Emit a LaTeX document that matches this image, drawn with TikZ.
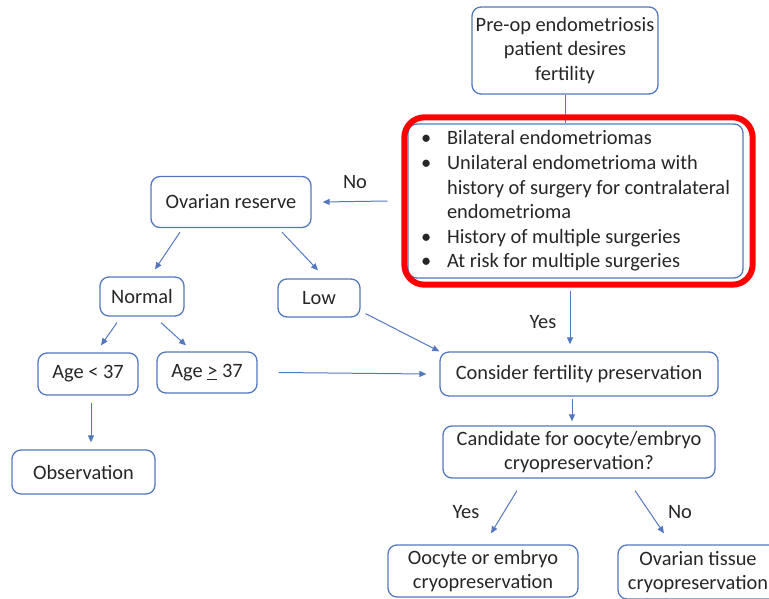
\documentclass[tikz,border=0pt]{standalone}
\usepackage{fontspec}
\setmainfont{Carlito}
\usetikzlibrary{arrows.meta}
\definecolor{boxblue}{RGB}{84,120,190}
\definecolor{inkgray}{RGB}{38,38,38}
\newcommand{\critem}[1]{\makebox[26pt][l]{\textbullet}#1}
\tikzstyle{process} = [rectangle, rounded corners=9pt, draw=boxblue, line width=1.3pt, text=inkgray, align=center, inner sep=2pt, font=\fontsize{20.4}{24.6}\selectfont]
\tikzstyle{highlight} = [draw=red, line width=6pt, rounded corners=20pt]
\tikzstyle{arrow} = [draw=boxblue, line width=1pt, -{Triangle[length=7pt,width=6pt]}]
\tikzstyle{link} = [draw=boxblue, line width=1pt]
\tikzstyle{answer} = [text=inkgray, font=\fontsize{20.4}{24.6}\selectfont]

\begin{document}
\begin{tikzpicture}[x=1pt, y=-1pt]
					\useasboundingbox (0,0) rectangle (769,599);
					\node[process, minimum width=186, minimum height=87] (start) at (565,50.5) {Pre-op endometriosis\\patient desires\\fertility};
					\node[process, minimum width=335, minimum height=154, align=left] (crit) at (575.5,201) {\critem{Bilateral endometriomas}\\\critem{Unilateral endometrioma with}\\\hspace*{26pt}history of surgery for contralateral\\\hspace*{26pt}endometrioma\\\critem{History of multiple surgeries}\\\critem{At risk for multiple surgeries}};
					\node[process, minimum width=160, minimum height=51] (ovres) at (231,202) {Ovarian reserve};
					\node[process, minimum width=84, minimum height=39] (normal) at (142,296.5) {Normal};
					\node[process, minimum width=82, minimum height=38] (low) at (319,298) {Low};
					\node[process, minimum width=100, minimum height=42] (ageyoung) at (88,374) {Age < 37};
					\node[process, minimum width=100, minimum height=41] (ageold) at (207,372.5) {Age \underline{>} 37};
					\node[process, minimum width=143, minimum height=44] (observation) at (83.5,472) {Observation};
					\node[process, minimum width=278, minimum height=44] (consider) at (579,374) {Consider fertility preservation};
					\node[process, minimum width=272, minimum height=52] (candidate) at (579,452) {Candidate for oocyte/embryo\\cryopreservation?};
					\node[process, minimum width=190, minimum height=52] (oocyte) at (483,571) {Oocyte or embryo\\cryopreservation};
					\node[process, minimum width=160, minimum height=54] (tissue) at (698,572) {Ovarian tissue\\cryopreservation};
					\node[answer] (no1) at (355,182) {No};
					\node[answer] (yes1) at (543,322) {Yes};
					\node[answer] (yes2) at (466,512) {Yes};
					\node[answer] (no2) at (680,512) {No};
					\draw[link] (start.south) -- (start.south |- crit.north);
					\draw[highlight] ([shift={(-3pt,6pt)}]crit.north west) rectangle ([shift={(9pt,-6pt)}]crit.south east);
					\draw[arrow] ([xshift=-20pt]crit.west) -- ([xshift=11pt]ovres.east);
					\draw[arrow] ([xshift=-5.5pt,yshift=-12pt]crit.south) -- ([xshift=-9pt,yshift=7pt]consider.north);
					\draw[arrow] ([xshift=-51pt,yshift=-4pt]ovres.south) -- ([xshift=13pt,yshift=7pt]normal.north);
					\draw[arrow] ([xshift=51pt,yshift=-4pt]ovres.south) -- ([xshift=-1pt,yshift=8pt]low.north);
					\draw[arrow] ([xshift=-25pt,yshift=-6pt]normal.south) -- ([xshift=13pt,yshift=7pt]ageyoung.north);
					\draw[arrow] ([xshift=19pt,yshift=-6pt]normal.south) -- ([xshift=-21pt,yshift=6pt]ageold.north);
					\draw[arrow] ([xshift=21pt]ageold.east) -- ([xshift=-13pt]consider.west);
					\draw[arrow] ([xshift=5pt,yshift=4pt]low.south east) -- (consider.north west);
					\draw[arrow] ([xshift=-7pt,yshift=-2pt]consider.south) -- ([xshift=-7pt,yshift=4pt]candidate.north);
					\draw[arrow] ([xshift=-62pt,yshift=-12pt]candidate.south) -- ([xshift=8pt,yshift=11pt]oocyte.north);
					\draw[arrow] ([xshift=56pt,yshift=-12pt]candidate.south) -- ([xshift=-34pt,yshift=11pt]tissue.north);
					\draw[arrow] ([xshift=3pt,yshift=-7pt]ageyoung.south) -- ([xshift=7.5pt,yshift=7pt]observation.north);
				\end{tikzpicture}
\end{document}
